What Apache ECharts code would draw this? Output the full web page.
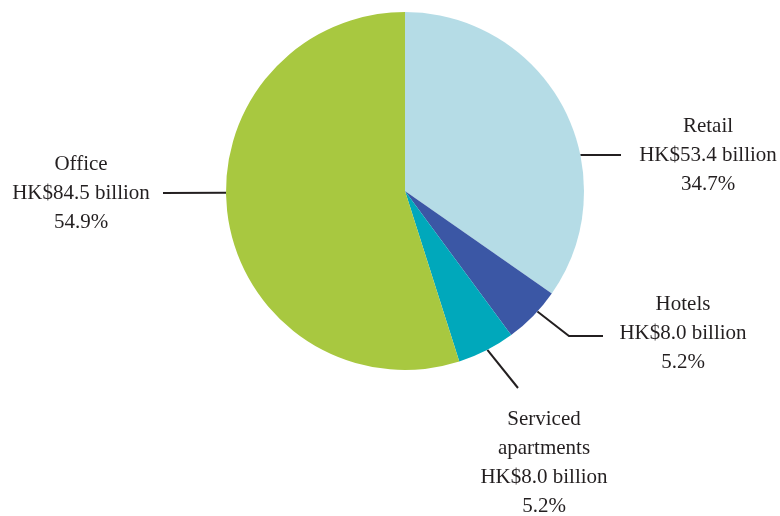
<!DOCTYPE html>
<html>
<head>
<meta charset="utf-8">
<script src="https://cdn.jsdelivr.net/npm/echarts@6/dist/echarts.min.js"></script>
<style>html,body{margin:0;padding:0;background:#fff;}#c{width:780px;height:516px;}</style>
</head>
<body>
<div id="c"></div>
<script>
// ---- data ----
const categories = ['Retail', 'Hotels', 'Serviced apartments', 'Office'];
const valuesHKDbn = [53.4, 8.0, 8.0, 84.5];
const sharesPct = [34.7, 5.2, 5.2, 54.9];
const colors = ['#b5dce6', '#3b57a5', '#00a8bb', '#a8c840'];

// ---- layout (positions only) ----
const CX = 405, CY = 191, R = 179;
function edge(deg) { // clockwise from top
  const a = deg * Math.PI / 180;
  return [CX + R * Math.sin(a), CY - R * Math.cos(a)];
}
const labelSpots = [
  { x: 708, y: 155, start: 78.4, path: [[621, 155]] },
  { x: 683, y: 333, start: 132.3, path: [[569, 336], [603, 336]] },
  { x: 544, y: 463, start: 152.6, path: [[518, 388]] },
  { x: 81, y: 193, start: 269.4, path: [[163, 193]] }
];

const chart = echarts.init(document.getElementById('c'), null, { renderer: 'canvas' });
chart.setOption({
  animation: false,
  backgroundColor: '#ffffff',
  series: [{
    type: 'pie',
    center: [CX, CY],
    radius: R,
    startAngle: 90,
    clockwise: true,
    avoidLabelOverlap: false,
    silent: true,
    itemStyle: { borderWidth: 0 },
    emphasis: { disabled: true },
    data: categories.map((n, i) => ({ name: n, value: valuesHKDbn[i], itemStyle: { color: colors[i] } })),
    label: {
      show: true,
      position: 'outside',
      fontFamily: '"Liberation Serif", "Times New Roman", serif',
      fontSize: 21,
      lineHeight: 29,
      color: '#231f20',
      align: 'center',
      formatter: function (p) {
        const i = p.dataIndex;
        return categories[i].replace('Serviced ', 'Serviced\n') + '\nHK$' + valuesHKDbn[i].toFixed(1) + ' billion\n' + sharesPct[i].toFixed(1) + '%';
      }
    },
    labelLine: {
      show: true,
      length: 20,
      length2: 20,
      smooth: false,
      lineStyle: { color: '#231f20', width: 2 }
    },
    labelLayout: function (params) {
      const s = labelSpots[params.dataIndex];
      const pts = [edge(s.start)].concat(s.path);
      return {
        x: s.x,
        y: s.y,
        align: 'center',
        verticalAlign: 'middle',
        labelLinePoints: pts
      };
    }
  }]
});
</script>
</body>
</html>
